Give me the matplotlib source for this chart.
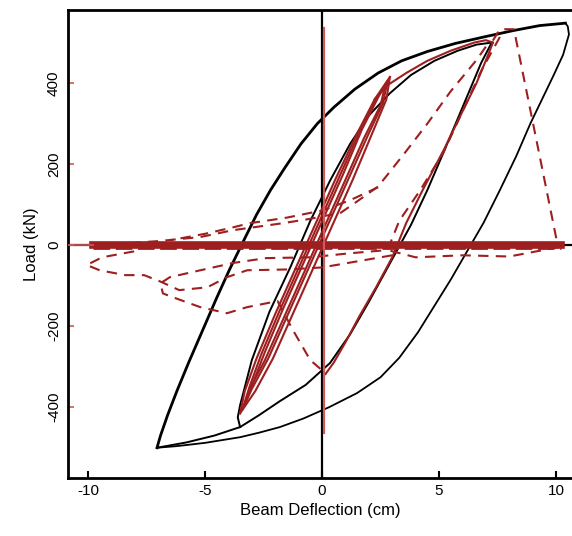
import numpy as np
import matplotlib.pyplot as plt

plt.rcParams['font.family'] = ['Liberation Sans', 'DejaVu Sans']

# black outer loop (large cycle)
outer_up_x = [-7.05, -6.9, -6.6, -6.2, -5.7, -5.1, -4.5, -3.95, -3.4, -2.8, -2.2, -1.6, -0.9, -0.2, 0.5, 1.4, 2.4, 3.4, 4.5, 5.7, 7.0, 8.2, 9.3, 10.4]
outer_up_y = [-500, -470, -420, -360, -290, -210, -130, -60, 5, 75, 136, 190, 250, 300, 340, 385, 425, 455, 478, 498, 515, 530, 542, 548]
outer_dn_x = [10.4, 10.5, 10.55, 10.3, 9.9, 9.4, 8.9, 8.3, 7.6, 6.9, 6.2, 5.5, 4.8, 4.1, 3.3, 2.5, 1.5, 0.3, -0.8, -1.8, -2.7, -3.5, -5.0, -6.2, -7.05]
outer_dn_y = [548, 540, 520, 470, 420, 360, 300, 220, 136, 55, -15, -85, -150, -215, -278, -326, -365, -400, -428, -449, -463, -474, -488, -496, -500]

# black inner loop
inner_dn_x = [7.25, 6.8, 6.0, 5.2, 4.5, 3.8, 2.9, 2.0, 1.2, 0.34, -0.7, -1.8, -2.7, -3.5, -4.6, -5.8, -7.05]
inner_dn_y = [500, 450, 340, 230, 136, 50, -45, -140, -220, -291, -345, -385, -420, -449, -470, -487, -500]
inner_up_x = [-3.5, -3.6, -3.5, -3.0, -2.25, -1.35, -0.5, 0.35, 1.2, 2.0, 2.9, 3.8, 4.8, 5.8, 6.6, 7.25]
inner_up_y = [-449, -425, -395, -284, -165, -54, 60, 160, 250, 320, 375, 420, 455, 480, 495, 500]

# red solid: narrow cycles
narrow1_up_x = [-3.5, -3.3, -2.8, -2.0, -1.15, -0.3, 0.55, 1.45, 2.25, 2.9]
narrow1_up_y = [-415, -360, -280, -170, -60, 50, 160, 270, 360, 415]
narrow1_dn_x = [2.9, 2.75, 2.1, 1.3, 0.45, -0.4, -1.25, -2.1, -2.85, -3.5]
narrow1_dn_y = [415, 360, 270, 160, 50, -60, -170, -280, -360, -415]
narrow2_up_x = [-3.4, -3.1, -2.6, -1.8, -0.95, -0.1, 0.75, 1.6, 2.35, 2.8]
narrow2_up_y = [-405, -350, -270, -160, -50, 60, 170, 280, 365, 405]
narrow2_dn_x = [2.8, 2.6, 1.95, 1.1, 0.25, -0.6, -1.45, -2.3, -3.0, -3.4]
narrow2_dn_y = [405, 350, 270, 160, 50, -60, -170, -280, -355, -405]
narrow3_up_x = [-3.3, -2.95, -2.45, -1.65, -0.8, 0.05, 0.9, 1.7, 2.4, 2.7]
narrow3_up_y = [-395, -340, -265, -155, -45, 65, 175, 285, 365, 395]
narrow3_dn_x = [2.7, 2.5, 1.8, 0.95, 0.1, -0.75, -1.6, -2.45, -3.05, -3.3]
narrow3_dn_y = [395, 345, 265, 155, 45, -65, -175, -285, -350, -395]

# red solid: larger cycle
big_up_x = [2.25, 2.8, 3.6, 4.5, 5.5, 6.5, 7.0, 7.3]
big_up_y = [360, 395, 425, 455, 480, 500, 506, 500]
big_dn_x = [7.3, 7.1, 6.6, 6.0, 5.2, 4.3, 3.6, 3.0, 2.3, 1.6, 1.0, 0.5, 0.15]
big_dn_y = [500, 470, 400, 330, 235, 136, 55, -30, -105, -175, -240, -290, -318]

# red dashed: degradation paths
drop_x = [7.3, 7.6, 8.2, 8.8, 9.4, 10.05, 10.2]
drop_y = [505, 533, 533, 362, 191, 5, 0]
soft1_x = [7.6, 6.8, 6.0, 5.2, 4.2, 3.3, 2.8, 1.2, -0.5, -2.4, -3.8, -5.2, -6.5, -6.9, -6.8, -6.4, -5.2, -4.06, -3.2, -1.9, -1.24, -0.5, 0.15]
soft1_y = [514, 430, 330, 230, 136, 60, -12, -20, -30, -32, -44, -62, -79, -94, -119, -128, -153, -168, -153, -138, -210, -284, -316]
soft2_x = [7.0, 6.6, 5.5, 4.5, 3.5, 2.4, 1.5, 0.8, -0.5, -1.7, -3.8, -5.2, -7.0, -8.8, -9.8]
soft2_y = [490, 457, 380, 300, 225, 145, 108, 80, 65, 54, 37, 20, 10, 3, 0]
soft3_x = [2.4, 1.2, 0.04, -1.5, -3.1, -3.8, -5.0, -6.5]
soft3_y = [143, 111, 86, 68, 54, 44, 28, 12]
soft4_x = [3.0, 1.5, 0.0, -1.5, -3.2, -4.06, -4.9, -6.1, -6.9, -7.6, -8.4, -9.5, -10.05, -9.4, -8.0]
soft4_y = [-25, -40, -55, -60, -62, -79, -104, -111, -90, -74, -74, -62, -49, -30, -15]
soft5_x = [10.1, 8.0, 6.0, 4.0, 2.8]
soft5_y = [-5, -28, -25, -30, -12]

# residual band along zero load
band_x = [-9.8, 10.2]
band_levels = [-7, 6]

x_ticks = [-10, -5, 0, 5, 10]
y_ticks = [-400, -200, 0, 200, 400]

red = '#9e1f1f'
light_red = '#cf5a5a'

fig = plt.figure(figsize=(5.72, 5.36), dpi=100)
ax = fig.add_axes([0.119, 0.108, 0.881, 0.873])

# axis cross lines
ax.axhline(0, color='black', lw=1.6, zorder=1)
ax.axvline(0, color='black', lw=1.6, zorder=1)

# black experimental loops
ax.plot(outer_up_x, outer_up_y, color='black', lw=2.0, zorder=2)
ax.plot(outer_dn_x, outer_dn_y, color='black', lw=1.3, zorder=2)
ax.plot(inner_dn_x, inner_dn_y, color='black', lw=1.4, zorder=2)
ax.plot(inner_up_x, inner_up_y, color='black', lw=1.4, zorder=2)

# red band along zero
ax.plot(band_x, [0, 0], color=red, lw=5.5, zorder=3)
for lev in band_levels:
    ax.plot(band_x, [lev, lev], color=red, lw=2.0, ls=(0, (6, 2)), zorder=3)

# red dashed paths
dash = (0, (5, 3.5))
for xs, ys in [(drop_x, drop_y), (soft1_x, soft1_y), (soft2_x, soft2_y),
               (soft3_x, soft3_y), (soft4_x, soft4_y), (soft5_x, soft5_y)]:
    ax.plot(xs, ys, color=red, lw=1.5, ls=dash, zorder=4)

# red solid loops
for xs, ys in [(narrow1_up_x, narrow1_up_y), (narrow1_dn_x, narrow1_dn_y),
               (narrow2_up_x, narrow2_up_y), (narrow2_dn_x, narrow2_dn_y),
               (narrow3_up_x, narrow3_up_y), (narrow3_dn_x, narrow3_dn_y),
               (big_up_x, big_up_y), (big_dn_x, big_dn_y)]:
    ax.plot(xs, ys, color=red, lw=1.5, zorder=5)

# red reference lines
ax.plot([-10.85, -9.8], [0, 0], color=light_red, lw=1.2, zorder=6)
ax.plot([0.08, 0.08], [-464, 536], color=light_red, lw=1.6, zorder=6)

ax.set_xlim(-10.85, 10.68)
ax.set_ylim(-575, 580)
ax.set_xticks(x_ticks)
ax.set_xticklabels([str(v) for v in x_ticks], fontsize=11)
ax.set_yticks(y_ticks)
ax.set_yticklabels([str(v) for v in y_ticks], fontsize=11, rotation=90, va='center')
ax.tick_params(axis='x', direction='in', length=5, width=1.5, color='black', pad=4)
ax.tick_params(axis='y', direction='in', length=4, width=1.2, color=light_red, pad=5)

for side in ['left', 'bottom', 'top']:
    ax.spines[side].set_linewidth(2.0)
ax.spines['right'].set_visible(False)

ax.set_xlabel('Beam Deflection (cm)', fontsize=12, labelpad=4)
ax.set_ylabel('Load (kN)', fontsize=12, labelpad=6)

fig.savefig('out.png', dpi=100)
